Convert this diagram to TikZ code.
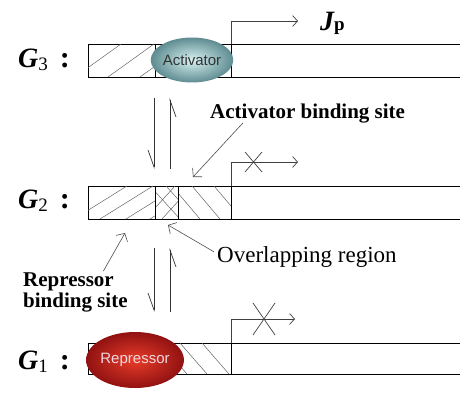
\documentclass[tikz,border=0pt]{standalone}
\usepackage{fontspec}
\setmainfont{Liberation Serif}
\setsansfont{Liberation Sans}
\usetikzlibrary{positioning,arrows.meta,shapes.geometric}
\definecolor{actin}{RGB}{215,242,242}
\definecolor{actout}{RGB}{95,140,145}
\definecolor{repin}{RGB}{232,60,40}
\definecolor{repout}{RGB}{145,18,18}
\definecolor{reptext}{RGB}{240,215,225}
\newcommand{\genelab}[1]{{\bfseries\itshape G}\raisebox{-3pt}{\fontsize{19}{19}\selectfont #1}\hspace{12pt}{\bfseries\fontsize{30}{30}\selectfont :}}

\begin{document}
\begin{tikzpicture}[x=1pt,y=-1pt,
  bar/.style={draw,line width=1pt,minimum width=390pt,anchor=north west,inner sep=0pt},
  hatch/.style={black!60,line width=0.5pt},
  tss/.style={black!75,line width=0.7pt,-{Straight Barb[length=5pt,width=11pt]}},
  harp/.style={black!80,line width=0.7pt,-{Straight Barb[harpoon,right,length=17pt,width=12pt]}},
  ptr/.style={black!70,line width=0.6pt,-{Straight Barb[length=6pt,width=13pt]}},
  glab/.style={font=\fontsize{28}{28}\selectfont,inner sep=0pt,anchor=base west},
  note/.style={font=\bfseries\fontsize{21}{21}\selectfont,inner sep=0pt},
  protein/.style={ellipse,inner sep=0pt,shading=radial,font=\sffamily\fontsize{15}{15}\selectfont}]
\useasboundingbox (0,0) rectangle (460,393);
% gene bars
\node[bar,minimum height=33pt] (g3) at (88,44) {};
\node[bar,minimum height=33pt] (g2) at (88,186) {};
\node[bar,minimum height=31pt] (g1) at (88,343) {};
% hatching
\begin{scope}
  \clip (88,44) rectangle (155,77);
  \foreach \x in {75,108,140} \draw[hatch] (\x,77) -- ++(46,-33);
\end{scope}
\begin{scope}
  \clip (88,186) rectangle (155,219);
  \foreach \x in {74,100,126,150} \draw[hatch] (\x,219) -- ++(53,-33);
\end{scope}
\begin{scope}
  \clip (155,186) rectangle (178,219);
  \foreach \x in {145,162} \draw[hatch] (\x,219) -- ++(30,-33);
  \foreach \x in {150,166} \draw[hatch] (\x,186) -- ++(30,33);
\end{scope}
\begin{scope}
  \clip (178,186) rectangle (231,219);
  \foreach \x in {172,192,214} \draw[hatch] (\x,186) -- ++(28,33);
\end{scope}
\begin{scope}
  \clip (178,343) rectangle (231,374);
  \foreach \x in {160,180,202} \draw[hatch] (\x,343) -- ++(27,31);
\end{scope}
% region borders
\draw[line width=1pt] (155,44) -- (155,77) (231,44) -- (231,77);
\draw[line width=1pt] (155,186) -- (155,219) (178,186) -- (178,219) (231,186) -- (231,219);
\draw[line width=1pt] (231,343) -- (231,374);
% transcription start
\coordinate (p3) at (231,44);
\coordinate (p2) at (231,186);
\coordinate (p1) at (231,343);
\draw[tss] (p3) |- (298,21);
\draw[tss] (p2) |- (298,162);
\draw[tss] (p1) |- (295,319);
\draw[black!75,line width=0.7pt] (245,152) -- (262,172) (245,172) -- (262,152);
\draw[black!75,line width=0.7pt] (253,303) -- (275,335) (253,335) -- (275,303);
% proteins
\node[protein,minimum width=74pt,minimum height=45pt,inner color=actin,outer color=actout,text=black!80] (act) at (192,60) {Activator};
\node[protein,minimum width=94pt,minimum height=56pt,inner color=repin,outer color=repout,text=reptext] (rep) at (135,360) {Repressor};
% labels
\node[glab] (lg3) at (18,68) {\genelab{3}};
\node[glab] (lg2) at (18,208) {\genelab{2}};
\node[glab] (lg1) at (18,369) {\genelab{1}};
\node[glab] (jp) at (320,31) {{\bfseries\itshape J}{\bfseries\fontsize{19}{19}\selectfont p}};
\node[note,anchor=base west] (actsite) at (210,118) {Activator binding site};
\node[note,font=\fontsize{23}{23}\selectfont,anchor=base west] (overlap) at (217,262) {Overlapping region};
\node[note,align=left,anchor=north west] (repsite) at (23,273) {Repressor\\binding site};
% binding
\draw[harp] (154,98) -- (154,169);
\draw[harp] (170,169) -- (170,98);
\draw[harp] (154,248) -- (154,312);
\draw[harp] (170,312) -- (170,248);
\coordinate (asTip) at (193,177);
\coordinate (ovTip) at (168,225);
\coordinate (rsTip) at (125,233);
\draw[ptr] ([xshift=33pt]actsite.south west) -- (asTip);
\draw[ptr] ([yshift=-6pt,xshift=-3pt]overlap.north west) -- (ovTip);
\draw[ptr] ([xshift=28pt,yshift=2pt]repsite.north) -- (rsTip);
\end{tikzpicture}
\end{document}
